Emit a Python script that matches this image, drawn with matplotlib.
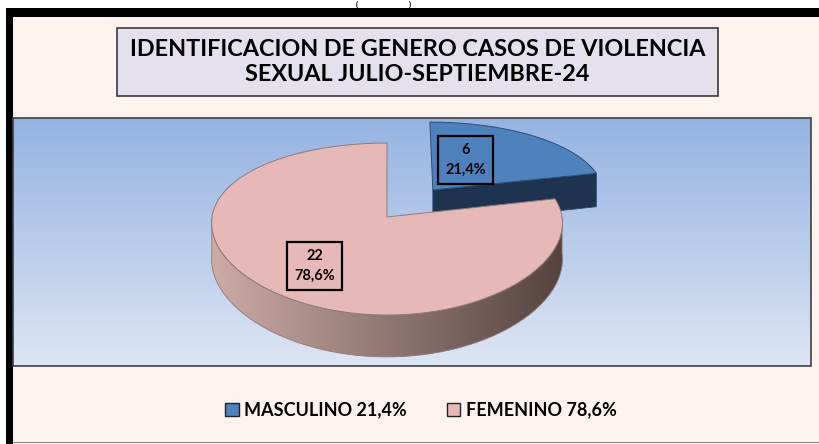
import numpy as np
import matplotlib
matplotlib.use('Agg')
import matplotlib.pyplot as plt
from matplotlib.patches import Rectangle, Polygon
from matplotlib.colors import LinearSegmentedColormap

# ---------------- data ----------------
categories = ['MASCULINO', 'FEMENINO']
values = [6, 22]
title = 'IDENTIFICACION DE GENERO CASOS DE VIOLENCIA\nSEXUAL JULIO-SEPTIEMBRE-24'

top_colors = ['#4F81BD', '#E6B9B8']
face_colors = ['#1E3350', '#7A5F5B']
wall_grad = [('#3A5F8F', '#1E3350'), ('#CDABA7', '#55433F')]
edge_colors = ['#2C4D75', '#8C7A78']
explode = [0.43, 0.0]

FONT = ['Lato', 'DejaVu Sans']
plt.rcParams['font.family'] = FONT

W, H = 819, 444
fig = plt.figure(figsize=(W / 100, H / 100), dpi=100)
ax = fig.add_axes([0, 0, 1, 1])
ax.set_xlim(0, W)
ax.set_ylim(H, 0)
ax.axis('off')

# ---------------- frame ----------------
ax.add_patch(Rectangle((6, 8), 830, 440, fc='#FDF3EE', ec='none', zorder=0))
ax.add_patch(Rectangle((6, 8), 7, 440, fc='black', ec='none', zorder=1))
ax.add_patch(Rectangle((6, 8), 830, 9, fc='black', ec='none', zorder=1))
ax.add_patch(Rectangle((13, 441.5), 810, 1.5, fc='#808080', ec='none', zorder=1))
ax.text(357, 0.5, '(', fontsize=5.5, fontweight='bold', ha='center', va='top')
ax.text(410, 0.5, ')', fontsize=5.5, fontweight='bold', ha='center', va='top')

# title box
ax.add_patch(Rectangle((117, 28), 601, 68, fc='#E5E0EC', ec='#3A3A3A', lw=1.2, zorder=2))
ax.text(417.5, 62, title, ha='center', va='center', fontsize=16.8, fontweight='bold',
        linespacing=1.2, zorder=3)

# plot area gradient
px0, px1, py0, py1 = 13, 811, 118, 366
cmap_bg = LinearSegmentedColormap.from_list('bg', ['#95B3E2', '#DDE5F4'])
grad = np.linspace(0, 1, 256).reshape(-1, 1)
ax.imshow(grad, cmap=cmap_bg, extent=(px0, px1, py1, py0), aspect='auto', zorder=1)
ax.add_patch(Rectangle((px0, py0), px1 - px0, py1 - py0, fc='none', ec='#404040', lw=1.2, zorder=2))
ax.set_xlim(0, W)
ax.set_ylim(H, 0)

# ---------------- 3D pie ----------------
cx, cy = 387, 217
A, B = 175, 84.3
PX, PY = 0.07, 0.14
DEPTH = 36


def proj(u, v, z=0.0):
    fx = 1.0 / (1.0 + PX * v)
    fy = 1.0 / (1.0 + PY * v)
    return cx + A * u * fx, cy - B * v * fy + DEPTH * z * fy


total = float(sum(values))
fracs = [v / total for v in values]
starts = []
a0 = 90.0
for f in fracs:
    starts.append((a0, a0 - 360.0 * f))
    a0 -= 360.0 * f


def pct(v):
    return f"{100 * v / total:.1f}".replace('.', ',') + '%'


z = 3
label_pos = []
for i, (t1, t2) in enumerate(starts):
    mid = np.radians((t1 + t2) / 2)
    u0, v0 = explode[i] * np.cos(mid), explode[i] * np.sin(mid)
    th = np.radians(np.linspace(t1, t2, 300))

    # outer wall (front part)
    vis = np.sin(th) < 0
    if vis.any():
        idx = np.where(vis)[0]
        segs = np.split(idx, np.where(np.diff(idx) > 1)[0] + 1)
        for s in segs:
            tt = th[s]
            topx, topy = proj(u0 + np.cos(tt), v0 + np.sin(tt), 0)
            botx, boty = proj(u0 + np.cos(tt), v0 + np.sin(tt), 1)
            xs = np.concatenate([topx, botx[::-1]])
            ys = np.concatenate([topy, boty[::-1]])
            poly = Polygon(np.column_stack([xs, ys]), closed=True, fc='none',
                           ec=edge_colors[i], lw=0.6, zorder=z + 0.2)
            ax.add_patch(poly)
            cm = LinearSegmentedColormap.from_list('w%d' % i, list(wall_grad[i]))
            im = ax.imshow(np.linspace(0, 1, 256).reshape(1, -1), cmap=cm,
                           extent=(xs.min(), xs.max(), ys.max(), ys.min()),
                           aspect='auto', zorder=z + 0.1)
            im.set_clip_path(poly)
    # radial faces
    for phi, sgn in ((t2, 1), (t1, -1)):
        p = np.radians(phi)
        if sgn * np.cos(p) > 1e-6:
            ux, vy = u0 + np.cos(p), v0 + np.sin(p)
            pts = [proj(u0, v0, 0), proj(ux, vy, 0), proj(ux, vy, 1), proj(u0, v0, 1)]
            ax.add_patch(Polygon(pts, closed=True, fc=face_colors[i], ec=edge_colors[i],
                                 lw=0.6, zorder=z + 0.3))
    # top face
    tx, ty = proj(u0 + np.cos(th), v0 + np.sin(th), 0)
    ax_, ay_ = proj(u0, v0, 0)
    pts = np.column_stack([np.concatenate([[ax_], tx]), np.concatenate([[ay_], ty])])
    ax.add_patch(Polygon(pts, closed=True, fc=top_colors[i], ec=edge_colors[i],
                         lw=0.7, zorder=z + 0.4))
    label_pos.append((u0, v0, mid))
    z += 1

# data labels
lab_cfg = [(0.46, 12), (0.67, 2)]
for i, (u0, v0, mid) in enumerate(label_pos):
    r, dang = lab_cfg[i]
    m = mid + np.radians(dang)
    lx, ly = proj(u0 + r * np.cos(m), v0 + r * np.sin(m), 0)
    ax.text(lx, ly, f"{values[i]}\n{pct(values[i])}", ha='center', va='center',
            fontsize=10.5, fontweight='bold', linespacing=1.5, zorder=10,
            bbox=dict(boxstyle='square,pad=0.5', fc='none', ec='black', lw=1.6))

# legend
handles = [Rectangle((0, 0), 1, 1, fc=top_colors[i], ec='#222222', lw=1.0) for i in range(2)]
labels = [f"{c} {pct(v)}" for c, v in zip(categories, values)]
fig.legend(handles, labels, loc='center', bbox_to_anchor=(421 / W, 1 - 410 / H), ncol=2,
           frameon=False, handlelength=0.75, handleheight=0.75, handletextpad=0.3,
           columnspacing=2.2, prop={'weight': 'bold', 'size': 13})

fig.savefig('out.png', dpi=100)
